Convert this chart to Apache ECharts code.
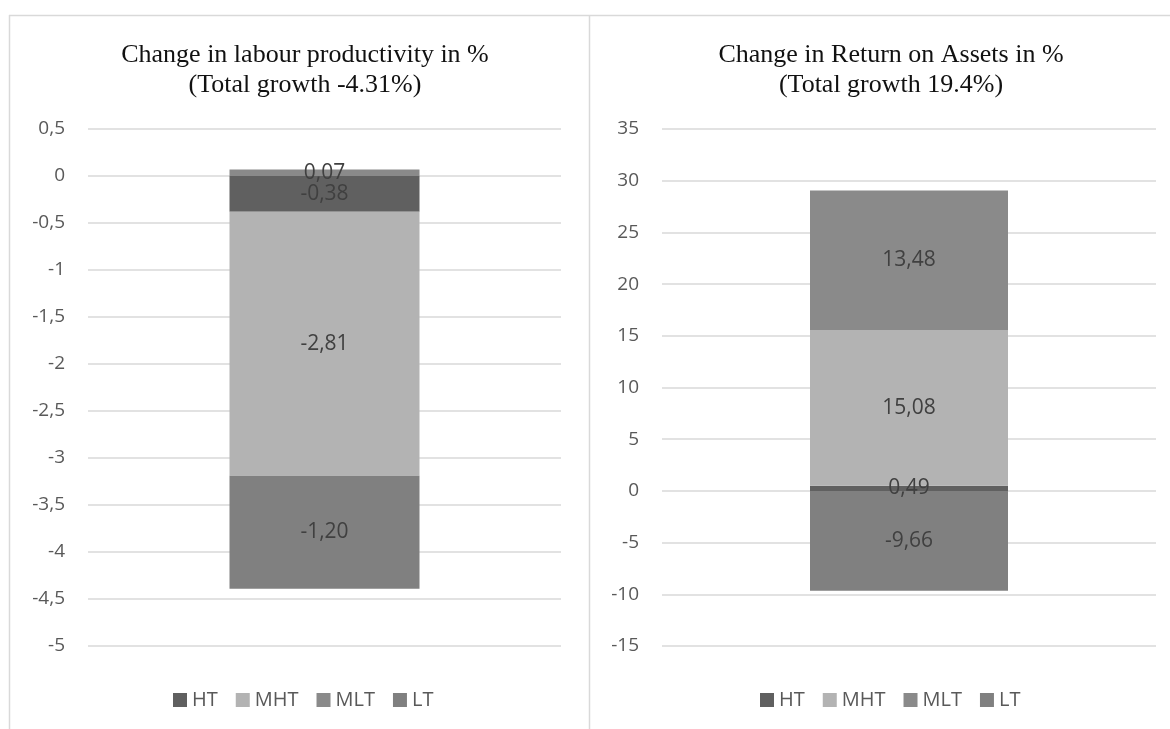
<!DOCTYPE html>
<html>
<head>
<meta charset="utf-8">
<script src="https://cdn.jsdelivr.net/npm/echarts@6/dist/echarts.min.js"></script>
<style>
  html, body { margin: 0; padding: 0; background: #fff; }
  #chart { width: 1170px; height: 729px; }
</style>
</head>
<body>
<div id="chart"></div>
<script>
// Sector groups (stack order)
const sectors = ['HT', 'MHT', 'MLT', 'LT'];
const sectorColors = ['#606060', '#b3b3b3', '#8a8a8a', '#808080'];

// Contribution to change in labour productivity, %
const labourValues = [-0.38, -2.81, 0.07, -1.20];
const labourTitle = 'Change in labour productivity in %\n(Total growth -4.31%)';

// Contribution to change in return on assets, %
const roaValues = [0.49, 15.08, 13.48, -9.66];
const roaTitle = 'Change in Return on Assets in %\n(Total growth 19.4%)';

const comma = v => String(v).replace('.', ',');
const fmt2 = v => v.toFixed(2).replace('.', ',');

const sans = 'Open Sans, Liberation Sans, sans-serif';
const chart = echarts.init(document.getElementById('chart'), null, { renderer: 'canvas' });

function yAxisFor(gridIndex, min, max, interval) {
  return {
    type: 'value', gridIndex, min, max, interval,
    axisLine: { show: false }, axisTick: { show: false },
    splitLine: { lineStyle: { color: '#d9d9d9', width: 1.5 } },
    axisLabel: {
      color: '#595959', fontSize: 19, fontFamily: sans,
      margin: 23, formatter: v => comma(v)
    }
  };
}

function seriesFor(values, axisIndex, stackName, barWidth) {
  return sectors.map((name, i) => ({
    name, type: 'bar', stack: stackName,
    xAxisIndex: axisIndex, yAxisIndex: axisIndex,
    barWidth,
    itemStyle: { color: sectorColors[i] },
    data: [values[i]],
    label: {
      show: true, position: 'inside', color: '#404040', fontSize: 21,
      fontFamily: sans,
      formatter: p => fmt2(p.value)
    }
  }));
}

const legendBase = {
  data: sectors, top: 690, padding: 0, itemWidth: 14, itemHeight: 14, itemGap: 18,
  icon: 'rect', textStyle: { color: '#595959', fontSize: 20, fontFamily: sans }
};
const titleText = { color: '#111', fontSize: 26, fontWeight: 'normal', fontFamily: 'Liberation Serif, serif', lineHeight: 30, align: 'center' };

chart.setOption({
  animation: false,
  title: [
    { text: labourTitle, left: 300, top: 35, textAlign: 'center', textStyle: titleText },
    { text: roaTitle, left: 886, top: 35, textAlign: 'center', textStyle: titleText }
  ],
  legend: [
    Object.assign({ left: 173 }, legendBase),
    Object.assign({ left: 760 }, legendBase)
  ],
  grid: [
    { left: 88, right: 609, top: 129, bottom: 83 },
    { left: 662, right: 14, top: 129, bottom: 83 }
  ],
  xAxis: [
    { type: 'category', gridIndex: 0, data: [''], axisLine: { show: false }, axisTick: { show: false }, axisLabel: { show: false } },
    { type: 'category', gridIndex: 1, data: [''], axisLine: { show: false }, axisTick: { show: false }, axisLabel: { show: false } }
  ],
  yAxis: [
    yAxisFor(0, -5, 0.5, 0.5),
    yAxisFor(1, -15, 35, 5)
  ],
  series: [
    ...seriesFor(labourValues, 0, 'labour', 190),
    ...seriesFor(roaValues, 1, 'roa', 198)
  ],
  graphic: [
    { type: 'line', shape: { x1: 9, y1: 15.5, x2: 1170, y2: 15.5 }, style: { stroke: '#d9d9d9', lineWidth: 1.5 }, silent: true },
    { type: 'line', shape: { x1: 9.5, y1: 15, x2: 9.5, y2: 729 }, style: { stroke: '#d9d9d9', lineWidth: 1.5 }, silent: true },
    { type: 'line', shape: { x1: 589.5, y1: 15, x2: 589.5, y2: 729 }, style: { stroke: '#d9d9d9', lineWidth: 1.5 }, silent: true }
  ]
});
</script>
</body>
</html>
